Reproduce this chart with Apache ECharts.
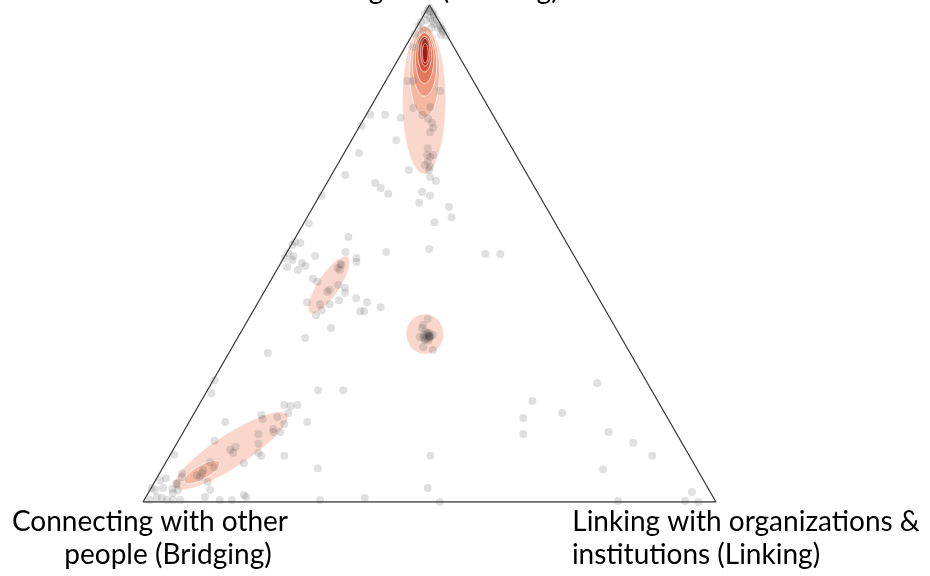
<!DOCTYPE html>
<html>
<head>
<meta charset="utf-8">
<script src="https://cdn.jsdelivr.net/npm/echarts@6/dist/echarts.min.js"></script>
<style>
  html, body { margin: 0; padding: 0; background: #ffffff; }
  #chart { width: 930px; height: 576px; }
</style>
</head>
<body>
<div id="chart"></div>
<script>
// Share of each respondent's activity, in percent: [bonding, bridging, linking]
const respondents = [
  // near the bonding corner
  [99.0,0.8,0.2],[98.6,0.3,1.1],[98.2,0.2,1.6],[98.2,1.7,0.1],[97.4,1.2,1.4],[97.0,0.2,2.8],
  [96.0,0.2,3.8],[95.4,0.3,4.3],[96.6,3.2,0.2],[95.8,4.0,0.2],[97.0,2.1,0.9],[96.2,1.1,2.7],
  [94.6,0.3,5.1],[95.0,0.3,4.7],[95.4,0.8,3.8],[95.4,2.0,2.6],[95.0,3.6,1.4],[99.4,0.3,0.3],
  [98.8,0.6,0.6],[97.8,0.4,1.8],[96.8,1.0,2.2],[94.0,1.0,5.0],[93.8,0.2,6.0],[94.2,5.4,0.4],
  [91.5,7.1,1.4],[92.8,5.1,2.1],[92.6,4.5,2.9],[82.7,6.8,10.5],[84.7,11.5,3.8],[84.7,10.5,4.8],
  [77.9,18.8,3.3],[77.3,16.4,6.3],[79.3,13.2,7.5],[77.9,12.3,9.8],[79.5,10.1,10.4],[76.3,11.4,12.3],
  [75.3,11.7,13.0],[74.4,12.7,12.9],[72.8,19.4,7.8],[71.2,14.7,14.1],[69.8,15.5,14.7],[69.4,15.2,15.4],
  [69.8,14.5,15.7],[67.8,16.9,15.3],[67.4,16.2,16.4],[66.8,20.2,13.0],[65.4,17.2,17.4],[77.1,11.7,11.2],
  [68.4,16.1,15.5],[66.8,16.7,16.5],
  // upper half
  [77.9,21.4,0.7],[75.7,24.0,0.3],[70.2,27.2,2.6],[65.8,31.8,2.4],[64.2,27.4,8.4],[63.2,26.9,9.9],
  [62.0,26.2,11.8],[64.6,16.6,18.8],[62.4,20.1,17.5],[61.6,19.1,19.3],[60.2,21.7,18.1],[59.4,16.9,23.7],
  [57.3,17.5,25.2],[56.3,21.0,22.7],[61.6,38.0,0.4],[56.1,43.0,0.9],[53.3,37.5,9.2],[49.5,45.2,5.3],
  [50.3,39.5,10.2],[49.1,38.2,12.7],[48.3,38.6,13.1],[50.3,32.4,17.3],[50.9,24.6,24.5],
  [49.9,15.3,34.8],[49.9,12.7,37.4],
  // along the bonding-bridging edge and the middle-left group
  [52.3,47.3,0.4],[52.1,46.5,1.4],[51.7,48.1,0.2],[50.1,49.6,0.3],[49.5,49.0,1.5],[49.1,50.7,0.2],
  [48.7,49.6,1.7],[48.1,48.2,3.7],[47.5,47.9,4.6],[47.3,51.2,1.5],[47.9,41.6,10.5],[47.1,42.5,10.4],
  [46.7,49.6,3.7],[44.9,47.9,7.2],[44.3,47.4,8.3],[47.7,41.5,10.8],[46.7,42.3,11.0],[43.7,44.1,12.2],
  [43.1,43.2,13.7],[42.1,43.7,14.2],[42.7,46.1,11.2],[42.3,46.7,11.0],[41.0,42.3,16.7],[40.6,45.5,13.9],
  [40.2,51.3,8.5],[40.2,40.8,19.0],[39.8,49.2,11.0],[39.8,47.5,12.7],[39.2,38.9,21.9],[38.4,42.9,18.7],
  [38.4,42.2,19.4],[38.6,49.5,11.9],[37.6,51.0,11.4],[35.0,49.7,15.3],[33.0,55.2,11.8],
  [30.0,63.2,6.8],[24.5,75.3,0.2],[21.9,77.1,1.0],
  // equal shares
  [35.6,33.3,31.1],[36.8,31.9,31.3],[35.0,33.8,31.2],[34.0,33.3,32.7],[33.2,33.3,33.5],[32.6,34.5,32.9],
  [33.6,32.6,33.8],[31.2,35.5,33.3],[30.6,34.1,35.3],[33.2,35.1,31.7],
  [33.3,33.3,33.3],[33.3,33.3,33.3],[33.3,33.3,33.3],[33.3,34.0,32.7],[32.8,34.2,33.0],[33.8,33.4,32.8],
  [33.0,34.6,32.4],[34.2,33.6,32.2],[32.5,34.0,33.5],[33.6,34.2,32.2],[32.9,33.6,33.5],[34.0,33.0,33.0],
  // lower-left group
  [19.5,65.6,14.9],[19.3,64.6,16.1],[19.5,63.3,17.2],[17.9,65.7,16.4],[16.7,70.8,12.5],[16.1,77.6,6.3],
  [17.1,68.0,14.9],[15.7,67.5,16.8],[14.7,69.9,15.4],[14.1,70.2,15.7],[13.7,73.0,13.3],[12.3,81.4,6.3],
  [11.1,78.3,10.6],[11.7,74.0,14.3],[9.9,79.3,10.8],[10.5,79.5,10.0],[9.9,74.9,15.2],[9.3,70.7,20.0],
  [7.8,78.5,13.7],[9.5,89.8,0.7],[8.0,84.3,7.7],[7.0,84.1,8.9],[6.4,86.3,7.3],[5.4,87.9,6.7],
  [5.8,86.8,7.4],[5.0,87.6,7.4],[4.0,86.7,9.3],[5.8,90.3,3.9],[2.4,87.1,10.5],[3.8,92.2,4.0],
  [2.4,92.7,4.9],[2.6,93.6,3.8],[4.4,94.8,0.8],[2.8,95.1,2.1],[2.4,96.7,0.9],[0.8,96.3,2.9],
  [0.4,95.6,4.0],[0.4,94.6,5.0],[0.4,93.3,6.3],[1.0,97.1,1.9],[0.4,98.6,1.0],[1.0,88.7,10.3],
  [0.4,86.4,13.2],[0.4,84.3,15.3],[1.0,81.5,17.5],[1.4,81.7,16.9],[2.8,97.1,0.1],[3.6,92.4,4.0],
  [5.0,90.7,4.3],[1.8,93.9,4.3],[4.8,93.6,1.6],
  [22.5,58.2,19.3],[22.5,53.8,23.7],[17.5,70.6,11.9],[16.1,63.3,20.6],[14.1,69.0,16.9],[9.3,74.7,16.0],
  [6.8,66.1,27.1],[0.4,68.9,30.7],[0.8,60.9,38.3],
  // lower middle and right
  [9.3,45.2,45.5],[2.8,48.9,48.3],[0.0,48.2,51.8],
  [23.9,8.8,67.3],[20.3,21.9,57.8],[17.9,17.9,64.2],[16.9,25.2,57.9],[13.7,26.8,59.5],[14.1,11.7,74.2],
  [11.9,8.5,79.6],[9.3,6.5,84.2],[6.6,16.4,77.0],[0.2,17.0,82.8],[2.0,3.2,94.8],[0.2,5.3,94.5],
  [0.0,3.1,96.9]
];

// Density contours (fitted ellipses): centre share, semi-axes in percent of a side, rotation, level
const contourCentre = [
  [80.9,10.5,8.6],[86.5,7.6,5.9],[88.1,6.8,5.1],[89.3,6.2,4.5],[90.1,5.8,4.1],[90.5,5.5,4.0],[90.3,5.6,4.1],
  [43.7,45.7,10.6],
  [33.8,33.9,32.3],
  [10.3,79.5,10.2],[6.0,86.7,7.3]
];
const contourSemiMajor = [12.9, 7.9, 5.6, 4.4, 3.1, 2.4, 1.7, 5.9, 3.5, 11.7, 3.5];
const contourSemiMinor = [3.8, 2.6, 2.1, 1.6, 1.2, 0.8, 0.5, 1.9, 3.3, 2.9, 1.2];
const contourAngle = [90, 90, 90, 90, 90, 90, 90, 56, 90, 33, 30];
const contourLevel = [1, 2, 3, 4, 5, 6, 7, 1, 1, 1, 2];
const levelColours = ['#f9d7cc', '#f4b8a3', '#ef9a7e', '#e6775a', '#d6513a', '#bd2f1d', '#a21a10'];

// Corners of the simplex: bridging, linking, bonding
const corners = [[0, 100, 0], [0, 0, 100], [100, 0, 0], [0, 100, 0]];

const cornerTitleTop = ['strong ties (Bonding)'];
const cornerTitleLeft = ['Connecting with other', 'people (Bridging)'];
const cornerTitleRight = ['Linking with organizations &', 'institutions (Linking)'];

const H = Math.sqrt(3) / 2;
// ternary share -> plane position (bridging at origin, linking at (1,0))
function toXY(s) {
  const t = s[0] + s[1] + s[2];
  const bond = s[0] / t, link = s[2] / t;
  return [link + bond / 2, bond * H];
}

const contourData = contourCentre.map((c, i) => {
  const p = toXY(c);
  return [p[0], p[1], contourSemiMajor[i] / 100, contourSemiMinor[i] / 100, contourAngle[i], contourLevel[i]];
});

const chart = echarts.init(document.getElementById('chart'), null, { renderer: 'canvas' });

const labelFont = '28px Lato';
function labelText(text, x, y) {
  return { type: 'text', x: x, y: y, silent: true,
    style: { text: text, font: labelFont, fill: '#000000', align: 'center', verticalAlign: 'middle',
             textAlign: 'center', textVerticalAlign: 'middle' } };
}

chart.setOption({
  animation: false,
  backgroundColor: '#ffffff',
  grid: { left: 143, right: 214, top: 5, bottom: 74 },
  xAxis: { type: 'value', min: 0, max: 1, show: false },
  yAxis: { type: 'value', min: 0, max: H, show: false },
  graphic: [
    labelText(cornerTitleTop[0], 432, -10),
    labelText(cornerTitleLeft[0], 150, 522),
    labelText(cornerTitleLeft[1], 168, 555),
    labelText(cornerTitleRight[0], 746, 522),
    labelText(cornerTitleRight[1], 696, 555)
  ],
  series: [
    {
      type: 'line',
      data: corners.map(toXY),
      symbol: 'none',
      z: 1,
      lineStyle: { color: '#3c3c3c', width: 1.3 },
      silent: true
    },
    {
      type: 'custom',
      z: 2,
      silent: true,
      encode: { x: 0, y: 1 },
      data: contourData,
      renderItem: function (params, api) {
        const cx = api.value(0), cy = api.value(1);
        const ma = api.value(2), mi = api.value(3);
        const ang = api.value(4) * Math.PI / 180;
        const lvl = api.value(5);
        const pts = [];
        for (let k = 0; k < 90; k++) {
          const t = k / 90 * 2 * Math.PI;
          const dx = ma * Math.cos(t), dy = mi * Math.sin(t);
          pts.push(api.coord([cx + dx * Math.cos(ang) - dy * Math.sin(ang),
                              cy + dx * Math.sin(ang) + dy * Math.cos(ang)]));
        }
        return {
          type: 'polygon',
          shape: { points: pts },
          style: { fill: levelColours[lvl - 1], stroke: 'rgba(255,255,255,0.7)', lineWidth: 1 }
        };
      }
    },
    {
      type: 'scatter',
      z: 3,
      silent: true,
      symbol: 'circle',
      symbolSize: 8,
      data: respondents.map(toXY),
      itemStyle: { color: 'rgba(60,60,60,0.2)' }
    }
  ]
});
</script>
</body>
</html>
